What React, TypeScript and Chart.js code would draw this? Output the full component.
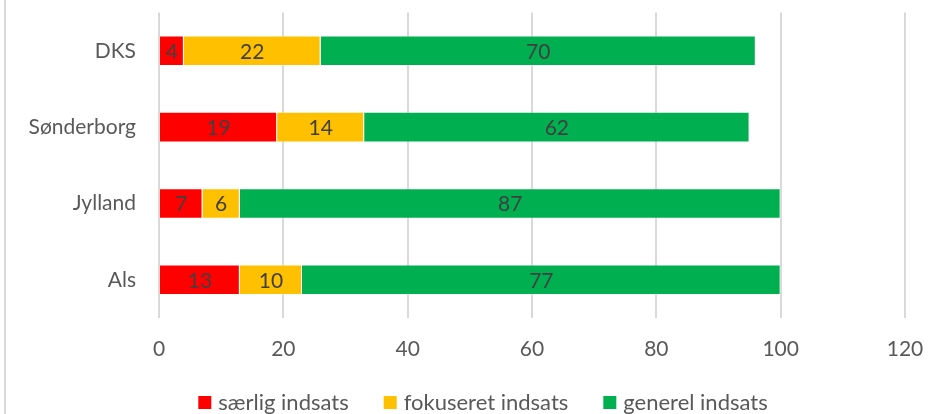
import React, { useEffect, useRef } from "react";
import { Chart, registerables } from "chart.js";

Chart.register(...registerables);

const categories = ["DKS", "Sønderborg", "Jylland", "Als"];
const saerlig = [4, 19, 7, 13];
const fokuseret = [22, 14, 6, 10];
const generel = [70, 62, 87, 77];
const seriesNames = ["særlig indsats", "fokuseret indsats", "generel indsats"];
const seriesColors = ["#FF0000", "#FFC000", "#00B050"];
const xTicks = [0, 20, 40, 60, 80, 100, 120];

const FONT = "Lato, 'Liberation Sans', sans-serif";

const dataLabelPlugin = {
  id: "dataLabels",
  afterDatasetsDraw(chart: any) {
    const ctx = chart.ctx;
    ctx.save();
    ctx.font = `21px ${FONT}`;
    ctx.fillStyle = "#404040";
    ctx.textAlign = "center";
    ctx.textBaseline = "middle";
    chart.data.datasets.forEach((ds: any, i: number) => {
      const meta = chart.getDatasetMeta(i);
      meta.data.forEach((bar: any, j: number) => {
        const v = ds.data[j];
        const x = (bar.x + bar.base) / 2;
        ctx.fillText(String(v), x, bar.y + 1);
      });
    });
    ctx.restore();
  },
};

const legendPlugin = {
  id: "customLegend",
  afterDraw(chart: any) {
    const ctx = chart.ctx;
    ctx.save();
    ctx.font = `22px ${FONT}`;
    const box = 13;
    const gapText = 7;
    const gapItem = 35;
    const items = chart.data.datasets.map((ds: any) => ({
      label: ds.label,
      color: ds.backgroundColor,
      w: box + gapText + ctx.measureText(ds.label).width,
    }));
    const total = items.reduce((a: number, it: any) => a + it.w, 0) + gapItem * (items.length - 1);
    let x = 483 - total / 2;
    const cy = 403;
    ctx.textBaseline = "middle";
    ctx.textAlign = "left";
    items.forEach((it: any) => {
      ctx.fillStyle = it.color;
      ctx.fillRect(x, cy - 7, box, box);
      ctx.fillStyle = "#595959";
      ctx.fillText(it.label, x + box + gapText, cy);
      x += it.w + gapItem;
    });
    ctx.restore();
  },
};

export default function App() {
  const ref = useRef<HTMLCanvasElement>(null);
  useEffect(() => {
    document.body.style.margin = "0";
    const border = { borderWidth: 1, borderColor: "rgba(255,255,255,0.35)" };
    const chart = new Chart(ref.current!, {
      type: "bar",
      data: {
        labels: categories,
        datasets: [
          { label: seriesNames[0], data: saerlig, backgroundColor: seriesColors[0], ...border },
          { label: seriesNames[1], data: fokuseret, backgroundColor: seriesColors[1], ...border },
          { label: seriesNames[2], data: generel, backgroundColor: seriesColors[2], ...border },
        ],
      },
      options: {
        indexAxis: "y",
        animation: false,
        responsive: false,
        maintainAspectRatio: false,
        datasets: { bar: { barPercentage: 0.4, categoryPercentage: 1 } },
        layout: { padding: { top: 7, right: 29, left: 0, bottom: 26 } },
        scales: {
          x: {
            stacked: true,
            min: 0,
            max: 120,
            afterBuildTicks: (s: any) => {
              s.ticks = xTicks.map((v) => ({ value: v }));
            },
            afterFit: (s: any) => {
              s.height = 70;
            },
            grid: {
              color: "#d9d9d9",
              lineWidth: 2,
              drawTicks: true,
              tickLength: 19,
              tickColor: "rgba(0,0,0,0)",
            },
            border: { display: false },
            ticks: {
              padding: 0,
              color: "#595959",
              font: { family: FONT, size: 21 },
            },
          },
          y: {
            stacked: true,
            afterFit: (s: any) => {
              s.width = 159;
            },
            grid: { display: false, drawTicks: true, tickLength: 23 },
            border: { display: false },
            ticks: {
              padding: 0,
              color: "#595959",
              font: { family: FONT, size: 21 },
            },
          },
        },
        plugins: {
          tooltip: { enabled: false },
          legend: { display: false },
        },
      },
      plugins: [dataLabelPlugin, legendPlugin],
    });
    return () => chart.destroy();
  }, []);
  return (
    <div style={{ position: "relative", width: 934, height: 414, background: "#fff" }}>
      <div style={{ position: "absolute", left: 4, top: 0, width: 2, height: 414, background: "#d9d9d9" }} />
      <canvas ref={ref} width={934} height={414} style={{ position: "absolute", left: 0, top: 0 }} />
    </div>
  );
}
